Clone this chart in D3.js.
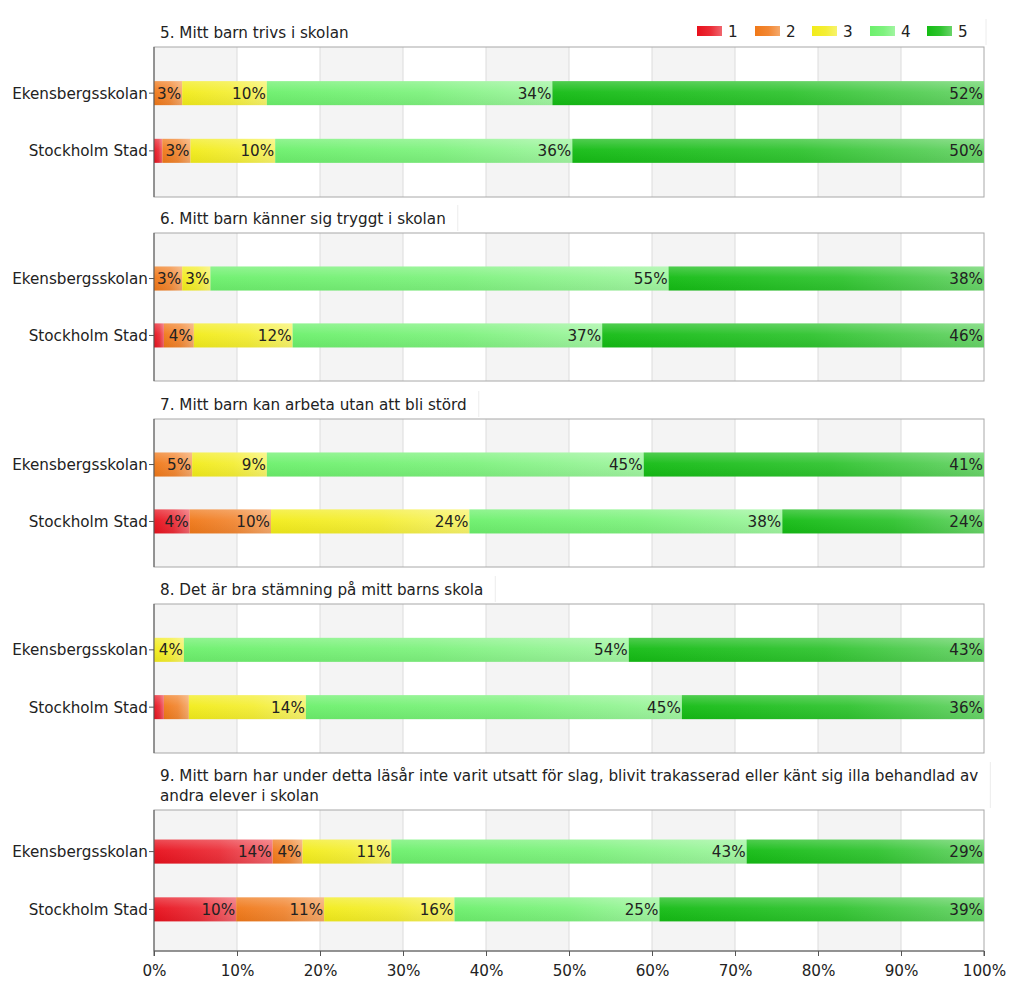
<!DOCTYPE html>
<html><head><meta charset="utf-8">
<script src="https://cdn.jsdelivr.net/npm/d3@7"></script>
<style>body{margin:0;background:#fff}svg{display:block}text{font-family:"DejaVu Sans",Verdana,sans-serif}</style>
</head><body>
<svg id="c" width="1024" height="995"></svg>
<script>
const categories = ["Ekensbergsskolan", "Stockholm Stad"];
const levels = ["1", "2", "3", "4", "5"];
const colors = ["#e8101c", "#f07818", "#f2ec1a", "#6cf06c", "#14bc14"];
const titles = [
  ["5. Mitt barn trivs i skolan"],
  ["6. Mitt barn känner sig tryggt i skolan"],
  ["7. Mitt barn kan arbeta utan att bli störd"],
  ["8. Det är bra stämning på mitt barns skola"],
  ["9. Mitt barn har under detta läsår inte varit utsatt för slag, blivit trakasserad eller känt sig illa behandlad av", "andra elever i skolan"]
];
// values per question: [Ekensbergsskolan, Stockholm Stad], each levels 1..5 in %
const q5 = [[0, 3.4, 10.2, 34.4, 52.0], [1.0, 3.4, 10.2, 35.8, 49.6]];
const q6 = [[0, 3.4, 3.4, 55.2, 38.0], [1.2, 3.6, 11.9, 37.3, 46.0]];
const q7 = [[0, 4.6, 9.0, 45.4, 41.0], [4.3, 9.8, 23.9, 37.7, 24.3]];
const q8 = [[0, 0, 3.6, 53.6, 42.8], [1.2, 3.0, 14.1, 45.3, 36.4]];
const q9 = [[14.3, 3.6, 10.7, 42.8, 28.6], [9.9, 10.6, 15.7, 24.7, 39.1]];
const questionValues = [q5, q6, q7, q8, q9];
const xTicks = [0, 10, 20, 30, 40, 50, 60, 70, 80, 90, 100];

const svg = d3.select("#c");
const left = 154, right = 984;
const x = d3.scaleLinear().domain([0, 100]).range([left, right]);
const panelTops = [47, 233, 419, 604, 810];
const panelHeights = [150, 148, 148, 149, 141];
const FS = 15.2;

const defs = svg.append("defs");
colors.forEach((c, i) => {
  const g = defs.append("linearGradient").attr("id", "g" + i).attr("x1", 0).attr("x2", 1).attr("y1", 0).attr("y2", 0);
  g.append("stop").attr("offset", "0%").attr("stop-color", c);
  g.append("stop").attr("offset", "55%").attr("stop-color", d3.interpolateRgb(c, "#fff")(0.12));
  g.append("stop").attr("offset", "100%").attr("stop-color", d3.interpolateRgb(c, "#fff")(0.36));
});
const hl = defs.append("linearGradient").attr("id", "hl").attr("x1", 0).attr("x2", 0).attr("y1", 0).attr("y2", 1);
hl.append("stop").attr("offset", "0%").attr("stop-color", "#fff").attr("stop-opacity", 0.25);
hl.append("stop").attr("offset", "45%").attr("stop-color", "#fff").attr("stop-opacity", 0.05);
hl.append("stop").attr("offset", "100%").attr("stop-color", "#000").attr("stop-opacity", 0.05);

questionValues.forEach((vals, qi) => {
  const top = panelTops[qi], h = panelHeights[qi];
  const g = svg.append("g");
  const y = d3.scalePoint().domain(categories).range([top, top + h]).padding(qi === 4 ? 0.72 : 0.8);
  const barH = 24;
  const tl = titles[qi];
  const n = tl.length;
  const tg = g.append("g");
  tl.forEach((t, li) => {
    tg.append("text").attr("x", 160).attr("y", top - 9 - (n - 1 - li) * 20).attr("font-size", FS).attr("fill", "#222").text(t);
  });
  const tw = qi === 0 ? right - left + 2 : d3.max(tg.selectAll("text").nodes(), nd => nd.getComputedTextLength()) + 18;
  g.append("line").attr("x1", left + tw).attr("x2", left + tw).attr("y1", top - 8 - n * 20).attr("y2", top - 2).attr("stroke", "#ececec");
  for (let i = 0; i < 100; i += 20) {
    g.append("rect").attr("x", x(i)).attr("y", top).attr("width", x(i + 10) - x(i)).attr("height", h).attr("fill", "#f4f4f4");
  }
  g.selectAll(".grid").data(xTicks.slice(1, -1)).join("line")
    .attr("x1", d => x(d)).attr("x2", d => x(d)).attr("y1", top).attr("y2", top + h)
    .attr("stroke", "#dcdcdc");
  g.append("rect").attr("x", left).attr("y", top).attr("width", right - left).attr("height", h)
    .attr("fill", "none").attr("stroke", "#a8a8a8");
  vals.forEach((row, ci) => {
    let acc = 0;
    const cy = y(categories[ci]);
    row.forEach((v, li) => {
      const x0 = x(acc), x1 = x(acc + v);
      acc += v;
      if (v <= 0) return;
      g.append("rect").attr("x", x0).attr("y", cy - barH / 2).attr("width", x1 - x0).attr("height", barH).attr("fill", `url(#g${li})`);
      g.append("rect").attr("x", x0).attr("y", cy - barH / 2).attr("width", x1 - x0).attr("height", barH).attr("fill", "url(#hl)");
      if (v >= 3.3) {
        g.append("text").attr("x", x1 - 1).attr("y", cy + 5.5).attr("text-anchor", "end").attr("font-size", FS)
          .attr("fill", "#222").text(Math.round(v) + "%");
      }
    });
  });
  g.append("line").attr("x1", left).attr("x2", left).attr("y1", top).attr("y2", top + h).attr("stroke", "#555");
  categories.forEach(c => {
    g.append("line").attr("x1", left - 5).attr("x2", left).attr("y1", y(c)).attr("y2", y(c)).attr("stroke", "#555");
    g.append("text").attr("x", left - 6).attr("y", y(c) + 5.5).attr("text-anchor", "end").attr("font-size", FS).attr("fill", "#222").text(c);
  });
  if (qi === 4) {
    const ax = g.append("g").attr("transform", `translate(0,${top + h})`)
      .call(d3.axisBottom(x).tickValues(xTicks).tickSize(5).tickFormat(d => d + "%"));
    ax.select(".domain").attr("stroke", "#555").attr("d", `M${left},5V0H${right}V5`);
    ax.selectAll(".tick line").attr("stroke", "#555");
    ax.selectAll(".tick text").attr("font-size", FS).attr("fill", "#222").attr("font-family", "DejaVu Sans").attr("dy", "1.1em");
  }
});

const legX = [697, 755, 812, 870, 927];
levels.forEach((l, i) => {
  svg.append("rect").attr("x", legX[i]).attr("y", 26).attr("width", 25).attr("height", 10).attr("fill", `url(#g${i})`);
  svg.append("text").attr("x", legX[i] + 31).attr("y", 37).attr("font-size", FS).attr("fill", "#222").text(l);
});
</script>
</body></html>
